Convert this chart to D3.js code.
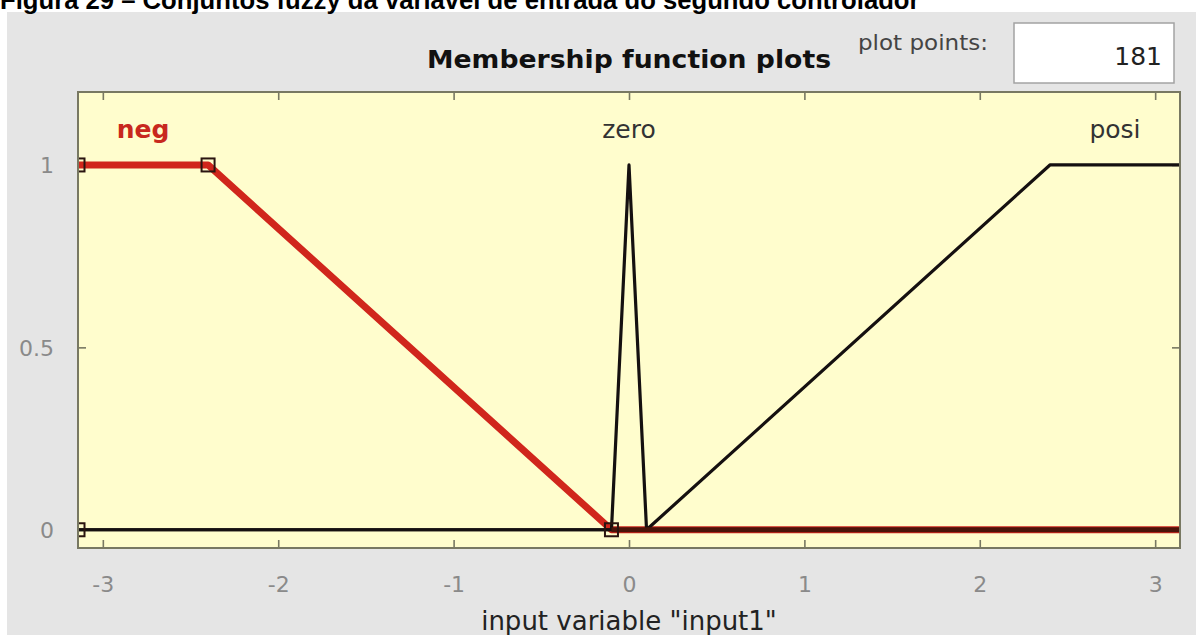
<!DOCTYPE html>
<html>
<head>
<meta charset="utf-8">
<script src="https://cdn.jsdelivr.net/npm/d3@7"></script>
<style>
  html, body { margin: 0; padding: 0; background: #ffffff; }
  svg { display: block; }
</style>
</head>
<body>
<svg id="chart" width="1196" height="635"></svg>
<script>
// ---- Data -------------------------------------------------------------
const figureCaption = "Figura 29 – Conjuntos fuzzy da variável de entrada do segundo controlador";
const panelTitle = "Membership function plots";
const plotPointsLabel = "plot points:";
const plotPoints = 181;
const xAxisLabel = 'input variable "input1"';

const inputRange = [-3.1416, 3.1416];
const yRange = [-0.05, 1.2];

const xTicks = [-3, -2, -1, 0, 1, 2, 3];
const yTicks = [0, 0.5, 1];
const yTickLabels = ["0", "0.5", "1"];

// membership functions (vertices of the piecewise-linear curves)
const mfNames = ["neg", "zero", "posi"];
const negX  = [-3.1416, -2.4, -0.1, 3.1416];
const negY  = [1, 1, 0, 0];
const zeroX = [-3.1416, -0.1, 0, 0.1, 3.1416];
const zeroY = [0, 0, 1, 0, 0];
const posiX = [-3.1416, 0.1, 2.4, 3.1416];
const posiY = [0, 0, 1, 1];

// parameter handles of the selected function (neg, trapmf)
const handleX = [-3.1416, -3.1416, -2.4, -0.1];
const handleY = [0, 1, 1, 0];

const selectedMf = "neg";

// ---- Layout -----------------------------------------------------------
const svg = d3.select("#chart");
const W = 1196, H = 635;
const plot = { left: 78, right: 1180, top: 92, bottom: 548 };

const x = d3.scaleLinear().domain(inputRange).range([plot.left, plot.right]);
const y = d3.scaleLinear().domain(yRange).range([plot.bottom, plot.top]);

const uiFont = "'DejaVu Sans', Verdana, sans-serif";
const borderColor = "#787862";

// gray figure panel
svg.append("rect")
  .attr("x", 7).attr("y", 12)
  .attr("width", W - 7).attr("height", H - 12)
  .attr("fill", "#e5e5e5");

// figure caption (bold, above the panel)
const cap = svg.append("text")
  .attr("x", 0).attr("y", 9)
  .attr("font-family", "'Liberation Sans', Arial, sans-serif")
  .attr("font-weight", "bold")
  .attr("font-size", 21)
  .attr("fill", "#000")
  .text(figureCaption);
{
  const w = cap.node().getComputedTextLength();
  cap.attr("font-size", 21 * 920 / w);
}

// panel title, centred over the axes
svg.append("text")
  .attr("x", (plot.left + plot.right) / 2).attr("y", 68)
  .attr("text-anchor", "middle")
  .attr("font-family", uiFont)
  .attr("font-weight", "bold")
  .attr("font-size", 24)
  .attr("fill", "#111")
  .attr("textLength", 404)
  .attr("lengthAdjust", "spacingAndGlyphs")
  .text(panelTitle);

// plot points label and edit box
svg.append("text")
  .attr("x", 858).attr("y", 50)
  .attr("font-family", uiFont)
  .attr("font-size", 21)
  .attr("fill", "#444")
  .attr("textLength", 130)
  .attr("lengthAdjust", "spacingAndGlyphs")
  .text(plotPointsLabel);

svg.append("rect")
  .attr("x", 1014).attr("y", 23)
  .attr("width", 160).attr("height", 60)
  .attr("fill", "#ffffff")
  .attr("stroke", "#a3a3a3")
  .attr("stroke-width", 1.5);

svg.append("text")
  .attr("x", 1162).attr("y", 65)
  .attr("text-anchor", "end")
  .attr("font-family", uiFont)
  .attr("font-size", 25)
  .attr("fill", "#222")
  .text(plotPoints);

// ---- Axes box -----------------------------------------------------------
svg.append("rect")
  .attr("x", plot.left).attr("y", plot.top)
  .attr("width", plot.right - plot.left)
  .attr("height", plot.bottom - plot.top)
  .attr("fill", "#fffdcd");

svg.append("defs").append("clipPath").attr("id", "plotClip")
  .append("rect")
  .attr("x", plot.left).attr("y", plot.top)
  .attr("width", plot.right - plot.left)
  .attr("height", plot.bottom - plot.top);

const tickLen = 8;
const tickColor = "#8a8a8a";

// bottom axis
const xAxisBottom = d3.axisBottom(x).tickValues(xTicks).tickSizeInner(-tickLen).tickSizeOuter(0)
  .tickFormat(d => d < 0 ? "-" + Math.abs(d) : String(d)).tickPadding(tickLen + 36);
const gxb = svg.append("g").attr("transform", `translate(0,${plot.bottom})`).call(xAxisBottom);

// top axis (ticks only)
const xAxisTop = d3.axisTop(x).tickValues(xTicks).tickSizeInner(-tickLen).tickSizeOuter(0).tickFormat("");
const gxt = svg.append("g").attr("transform", `translate(0,${plot.top})`).call(xAxisTop);

// left axis
const yAxisLeft = d3.axisLeft(y).tickValues(yTicks).tickSizeInner(-tickLen).tickSizeOuter(0)
  .tickFormat((d, i) => yTickLabels[i]).tickPadding(tickLen + 16);
const gyl = svg.append("g").attr("transform", `translate(${plot.left},0)`).call(yAxisLeft);

// right axis (ticks only)
const yAxisRight = d3.axisRight(y).tickValues(yTicks).tickSizeInner(-tickLen).tickSizeOuter(0).tickFormat("");
const gyr = svg.append("g").attr("transform", `translate(${plot.right},0)`).call(yAxisRight);

[gxb, gxt, gyl, gyr].forEach(g => {
  g.select(".domain").remove();
  g.selectAll(".tick line").attr("stroke", borderColor).attr("stroke-width", 1.6);
  g.selectAll(".tick text")
    .attr("font-family", uiFont)
    .attr("font-size", 22)
    .attr("fill", tickColor);
});
gxb.selectAll(".tick text").attr("dy", "0.0em");
gyl.selectAll(".tick text").attr("dy", "0.36em");

// ---- Membership functions ----------------------------------------------
const lineGen = d3.line().x(d => x(d[0])).y(d => y(d[1]));
const curves = {
  neg:  d3.zip(negX, negY),
  zero: d3.zip(zeroX, zeroY),
  posi: d3.zip(posiX, posiY)
};

const gCurves = svg.append("g").attr("clip-path", "url(#plotClip)");

// selected function first (thick red), the others drawn on top in black
gCurves.append("path")
  .datum(curves[selectedMf])
  .attr("d", lineGen)
  .attr("fill", "none")
  .attr("stroke", "#d0261c")
  .attr("stroke-width", 7)
  .attr("stroke-linejoin", "round");

mfNames.filter(n => n !== selectedMf).forEach(n => {
  gCurves.append("path")
    .datum(curves[n])
    .attr("d", lineGen)
    .attr("fill", "none")
    .attr("stroke", "#151010")
    .attr("stroke-width", 3.2)
    .attr("stroke-linejoin", "round");
});

// where the black curves run over the red one along zero, darken the core
gCurves.append("path")
  .datum(curves[selectedMf].filter(d => d[1] === 0))
  .attr("d", lineGen)
  .attr("fill", "none")
  .attr("stroke", "#4a140a")
  .attr("stroke-width", 5);

// parameter handles
const hs = 13;
gCurves.selectAll("rect.handle")
  .data(d3.zip(handleX, handleY))
  .join("rect")
  .attr("class", "handle")
  .attr("x", d => x(d[0]) - hs / 2)
  .attr("y", d => y(d[1]) - hs / 2)
  .attr("width", hs).attr("height", hs)
  .attr("fill", "none")
  .attr("stroke", "#2a1410")
  .attr("stroke-width", 2);

// function labels, centred over the plateau where each curve is maximal
function peakCenter(xs, ys) {
  const m = d3.max(ys);
  const at = xs.filter((v, i) => ys[i] === m);
  return (d3.min(at) + d3.max(at)) / 2;
}
const labelX = [peakCenter(negX, negY), peakCenter(zeroX, zeroY), peakCenter(posiX, posiY)];

svg.selectAll("text.mflabel")
  .data(mfNames)
  .join("text")
  .attr("class", "mflabel")
  .attr("x", (d, i) => x(labelX[i]))
  .attr("y", 138)
  .attr("text-anchor", "middle")
  .attr("font-family", uiFont)
  .attr("font-size", 25)
  .attr("fill", d => d === selectedMf ? "#c8281e" : "#333")
  .attr("font-weight", d => d === selectedMf ? "bold" : "normal")
  .text(d => d);

// axes border
svg.append("rect")
  .attr("x", plot.left).attr("y", plot.top)
  .attr("width", plot.right - plot.left)
  .attr("height", plot.bottom - plot.top)
  .attr("fill", "none")
  .attr("stroke", borderColor)
  .attr("stroke-width", 2);

// x axis title
svg.append("text")
  .attr("x", (plot.left + plot.right) / 2).attr("y", 630)
  .attr("text-anchor", "middle")
  .attr("font-family", uiFont)
  .attr("font-size", 26)
  .attr("fill", "#222")
  .text(xAxisLabel);
</script>
</body>
</html>
